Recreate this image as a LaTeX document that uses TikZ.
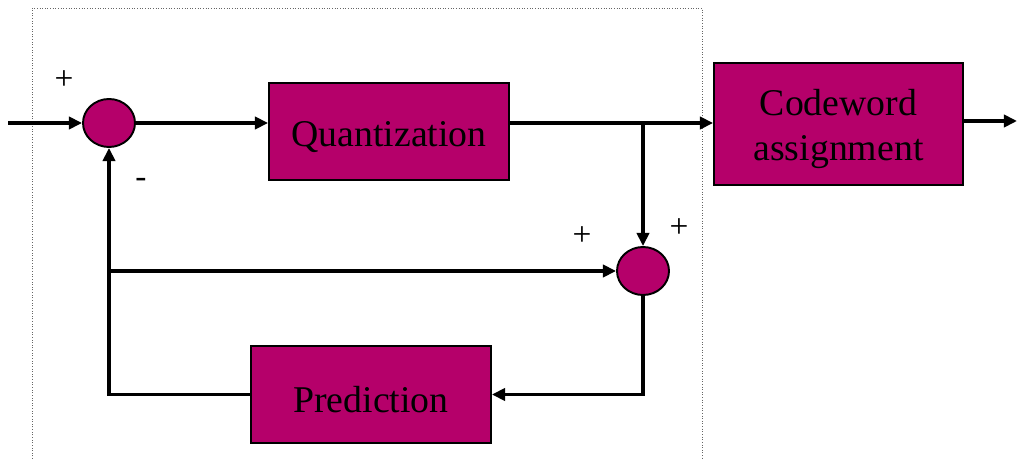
\documentclass[tikz,border=0pt]{standalone}
\usepackage{fontspec}
\setmainfont{Liberation Serif}
\usepackage{xcolor}
\usepackage{tikz}
\usetikzlibrary{positioning, shapes.geometric, arrows.meta, calc}

\definecolor{blockfill}{RGB}{181,0,106}
\newcommand{\lowertext}[1]{\raisebox{-3pt}[\height][\depth]{#1}}

\begin{document}
\begin{tikzpicture}[
  x=0.02cm, y=-0.02cm,
  block/.style={
    rectangle, draw=black, fill=blockfill, line width=1.1pt,
    minimum width=4.8cm, minimum height=1.94cm, align=center,
    font=\fontsize{21.5}{25.5}\selectfont, inner sep=0pt
  },
  sum/.style={
    ellipse, draw=black, fill=blockfill, line width=1.1pt,
    minimum width=1.04cm, minimum height=0.96cm, inner sep=0pt
  },
  sign/.style={font=\fontsize{19}{19}\selectfont, inner sep=0pt},
  arrow/.style={
    -{Triangle[length=7.5pt,width=7pt]}, line width=2pt, draw=black
  }
]
\useasboundingbox (0,0) rectangle (1017,459);

% Encoder frame
\draw[densely dotted, gray!80!black, line width=0.5pt]
  (32,459) -- (32,8) -- (702,8) -- (702,459);

% Blocks
\node[sum] (sumerr) at (109,123) {};
\node[block] (quant) at (389,131.5) {\lowertext{Quantization}};
\node[block, minimum width=4.98cm, minimum height=2.44cm] (code) at (838.5,124)
  {\lowertext{\begin{tabular}{@{}c@{}}Codeword\\assignment\end{tabular}}};
\node[sum] (sumrec) at (643,271) {};
\node[block] (pred) at (371,394.5) {\lowertext{Prediction}};

% Signs
\node[sign] (pin) at (64,80) {+};
\node[sign] (mfb) at (141,183) {-};
\node[sign] (pfb) at (582,236) {+};
\node[sign] (pq) at (679,228) {+};

% Free ends and junctions
\coordinate (in) at (8,123);
\coordinate (out) at (1017,121);
\coordinate (branch) at (sumrec |- sumerr);
\coordinate (fbjoin) at (sumerr |- sumrec);

% Forward path
\draw[arrow] (in) -- (sumerr);
\draw[arrow] (sumerr) -- (sumerr -| quant.west);
\draw[arrow] (sumerr -| quant.east) -- (sumerr -| code.west);
\draw[arrow] (code.east |- out) -- (out);

% Reconstruction loop
\draw[arrow] (branch) -- (sumrec);
\draw[arrow] (sumrec.south) |- (pred.east);
\draw[arrow] (pred.west) -| (sumerr.south);
\draw[arrow] (fbjoin) -- (sumrec.west);

\end{tikzpicture}
\end{document}
